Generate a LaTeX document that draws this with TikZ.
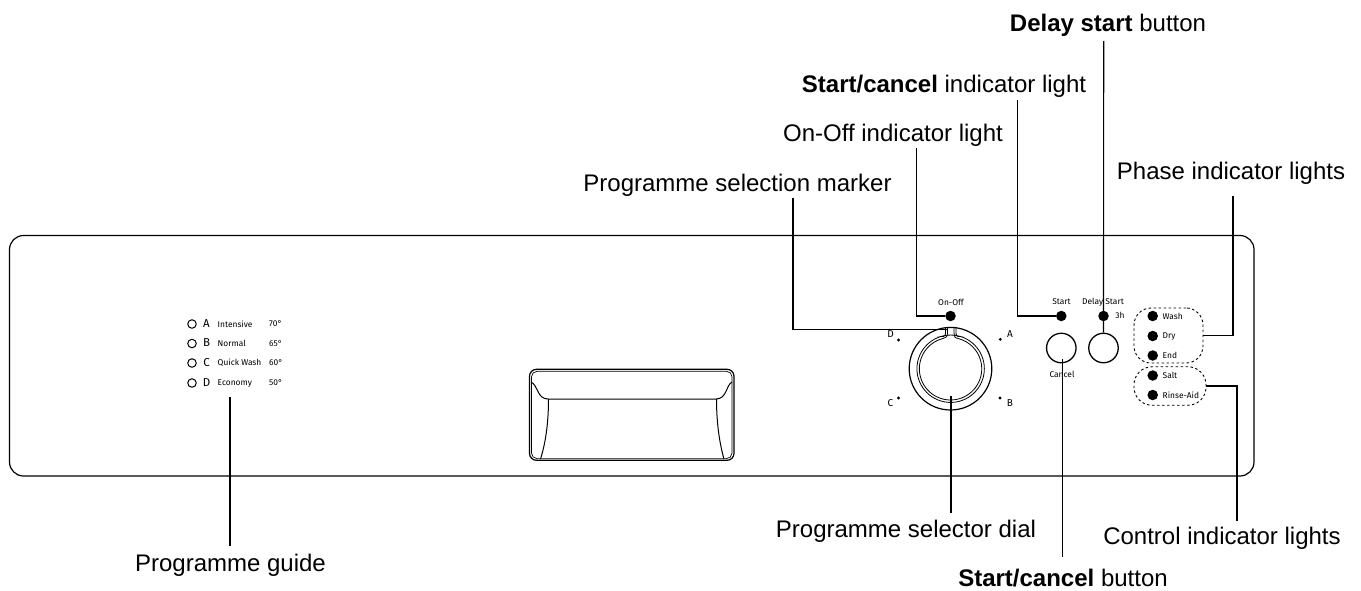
\documentclass[tikz,border=0pt]{standalone}
\usepackage{fontspec}
\setmainfont{Liberation Sans}
\newfontfamily\smallfont{Fira Sans}
\tikzset{
  lab/.style={inner sep=0pt,font=\fontsize{24}{27}\selectfont,text=black},
  tiny/.style={inner sep=0pt,font=\smallfont\fontsize{8.4}{10}\selectfont,text=black},
  tinyl/.style={tiny,anchor=west},
  letter/.style={inner sep=0pt,font=\smallfont\fontsize{11.5}{13}\selectfont,text=black},
  dlet/.style={inner sep=0pt,font=\smallfont\fontsize{10}{12}\selectfont,text=black},
  lamp/.style={circle,fill=black,draw=none,minimum size=10.5pt,inner sep=0pt},
  leader/.style={draw=black,line width=1.15pt},
  tick/.style={circle,fill=black,minimum size=3.2pt,inner sep=0pt},
  guidering/.style={circle,draw=black,line width=1pt,minimum size=8.5pt,inner sep=0pt},
  knob/.style={circle,draw=black,line width=1.3pt,fill=white,minimum size=29.5pt,inner sep=0pt},
  blob/.style={draw=black,line width=0.9pt,dash pattern=on 2.5pt off 2.5pt,rounded corners=17pt},
}
\begin{document}
\begin{tikzpicture}[x=1pt,y=-1pt]
\useasboundingbox (0,0) rectangle (1361,590);
% panel
\draw[line width=1.2pt,rounded corners=14pt] (9.5,235.5) rectangle (1254,476);

% dial
\coordinate (dc) at (950.5,368.7);
\draw[line width=1.2pt] (dc) circle[radius=41.3];
\draw[line width=0.8pt] (956,327.5) -- (956,333) .. controls (956,337) and (959,337) .. (960.5,336.5)
  arc[start angle=-73,end angle=-467,radius=33.7]
  .. controls (945.5,337) and (945.5,335) .. (945.5,333) -- (945.5,327.5) -- cycle;
\draw[line width=0.8pt] (947.5,327.5) -- (947.5,333) .. controls (947.5,337) and (945.5,338) .. (943,338.5)
  arc[start angle=-104,end angle=-436,radius=31.2]
  .. controls (954.5,338) and (954,336) .. (954,333) -- (954,327.5);

% drawer handle
\draw[line width=1.2pt,rounded corners=7pt] (529.5,369.3) rectangle (734,460.3);
\draw[line width=0.7pt,rounded corners=5.5pt] (531.5,371.3) rectangle (732,458.6);
\draw[line width=1pt] (531,382) .. controls (538,385) and (537,399) .. (548,399)
  -- (716,399) .. controls (727,399) and (726,385) .. (732,382);
\draw[line width=1pt] (548.5,399) .. controls (548.5,425) and (545,445) .. (540.5,459);
\draw[line width=1pt] (716.5,399) .. controls (716.5,425) and (720,445) .. (724,459);

% programme guide
\foreach \n/\y/\l/\t/\d in {a/324/A/{Intensive}/70,b/343.5/B/{Normal}/65,c/363/C/{Quick Wash}/60,d/383/D/{Economy}/50}{
  \node[guidering] (r\n) at (192,\y) {};
  \node[letter] (l\n) at (206.5,\y-0.5) {\l};
  \node[tinyl] (t\n) at (217.5,\y) {\t};
  \node[tinyl] (g\n) at (269,\y) {\d°};
}

% dial marks
\node[tick] (ta) at (1000.3,339.3) {};
\node[tick] (tb) at (1000,398) {};
\node[tick] (tc) at (898.5,398) {};
\node[tick] (td) at (898.5,340) {};
\node[dlet] (la) at (1010,334) {A};
\node[dlet] (lb) at (1010,403) {B};
\node[dlet] (lc) at (890.5,403) {C};
\node[dlet] (ld) at (890.5,334) {D};

% lamps and buttons
\node[lamp] (onoff) at (950.5,316) {};
\node[lamp] (startl) at (1061.3,316) {};
\node[lamp] (delayl) at (1103.5,316) {};
\node[knob] (cancelb) at (1061.3,348) {};
\node[knob] (delayb) at (1103.5,348) {};
\node[tiny] (tonoff) at (951,302) {On-Off};
\node[tiny] (tstart) at (1061.5,302) {Start};
\node[tiny] (tdelay) at (1103,302) {Delay Start};
\node[tiny] (t3h) at (1120,315) {3h};
\node[tiny] (tcancel) at (1062,374) {Cancel};

% indicator groups
\node[blob,minimum width=69pt,minimum height=55pt,inner sep=0pt] (phase) at (1168.5,335.5) {};
\node[blob,rounded corners=18pt,minimum width=72pt,minimum height=38.5pt,inner sep=0pt] (control) at (1170,386) {};
\foreach \n/\y/\t in {wash/316/Wash,dry/336/Dry,end/355.5/End,salt/375.5/Salt,rinse/395/Rinse-Aid}{
  \node[lamp] (\n) at (1152.7,\y) {};
  \node[tinyl] (t\n) at (1162.5,\y) {\t};
}

% labels
\node[lab] (Ldelay) at (1108,25.5) {\textbf{Delay start} button};
\node[lab] (Lstart) at (944,86.5) {\textbf{Start/cancel} indicator light};
\node[lab] (Lonoff) at (893,135.5) {On-Off indicator light};
\node[lab] (Lmark) at (737.5,185.5) {Programme selection marker};
\node[lab] (Lphase) at (1231,173.5) {Phase indicator lights};
\node[lab] (Lctrl) at (1222,538.5) {Control indicator lights};
\node[lab] (Ldial) at (906,531.5) {Programme selector dial};
\node[lab] (Lbutton) at (1063,578.5) {\textbf{Start/cancel} button};
\node[lab] (Lguide) at (230.5,565.5) {Programme guide};

% connectors
\coordinate (mk) at (947.5,329.3);
\coordinate (dl) at (951,396);
\coordinate (cb) at (1062.7,359);
\coordinate (gd) at (230,397);
\coordinate (fa) at (1103.7,41);
\coordinate (fb) at (1017.3,100);
\coordinate (fc) at (916.2,148);
\coordinate (fd) at (793,198);
\coordinate (fe) at (1233,196);
\coordinate (ff) at (1237,521);
\coordinate (fg) at (951,513);
\coordinate (fh) at (1062.7,557);
\coordinate (fi) at (230,546);
\draw[leader] (fa) -- (delayb.north);
\draw[leader] (fb) |- (startl.west);
\draw[leader] (fc) |- (onoff.west);
\draw[leader] (fd) |- (mk);
\draw[leader] (fe) |- (phase.east);
\draw[leader] (ff) |- (control.east);
\draw[leader] (dl) -- (fg);
\draw[leader] (cb) -- (fh);
\draw[leader] (gd) -- (fi);
\end{tikzpicture}
\end{document}
